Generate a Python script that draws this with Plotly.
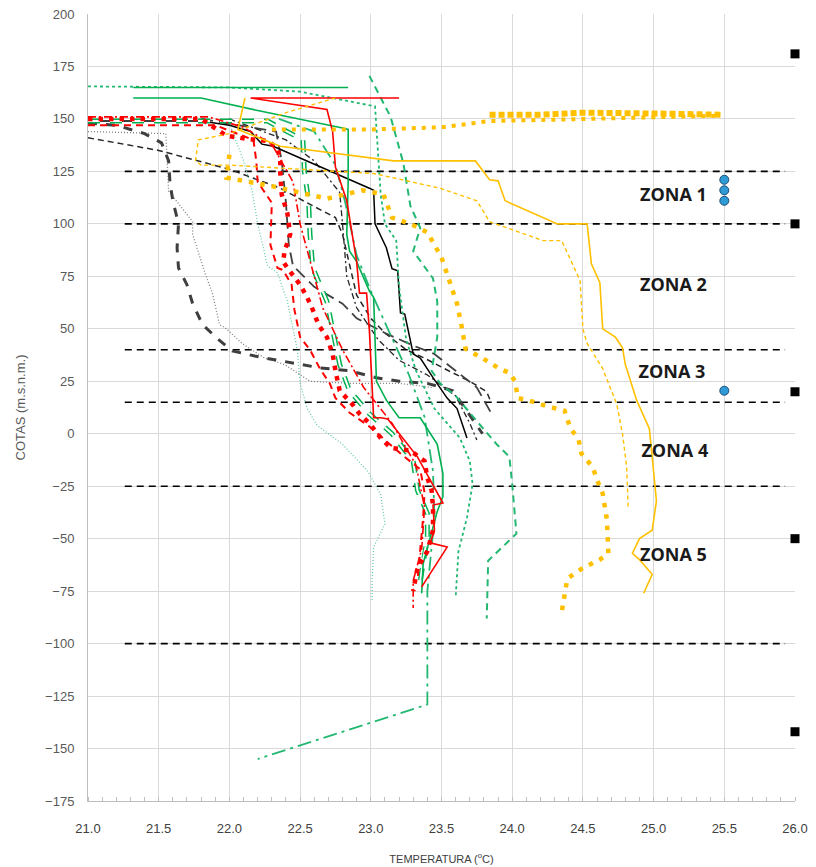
import plotly.graph_objects as go

# ---------------- DATA ----------------
# Yellow profiles
y_solid_T = [22.11, 22.06, 22.36, 23.16, 23.74, 23.84, 23.90, 23.95, 24.32, 24.53, 24.56, 24.62, 24.64, 24.73, 24.78, 24.80, 24.88, 24.97, 24.99, 25.01, 25.02, 24.99, 24.90, 24.85, 24.90, 24.99, 24.93]
y_solid_Z = [160, 145, 137, 130, 130, 121, 120.5, 111, 100, 100, 81, 72, 50, 46, 41, 33, 16, 2.4, -11, -24, -32, -46, -50, -57, -60, -67, -76]

y_dash_T = [22.75, 22.40, 22.00, 21.78, 21.76, 21.80, 22.00, 22.50, 23.02, 23.49, 23.75, 23.84, 24.22, 24.35, 24.48, 24.50, 24.53, 24.64, 24.74, 24.78, 24.81, 24.82]
y_dash_Z = [160, 153, 143, 140, 130, 128, 128, 126, 124, 117, 111, 101, 92, 92, 73, 50, 43, 31, 14, 0, -16, -35]

y_bigdot_T = [22.00, 21.98, 22.30, 22.69, 22.94, 23.09, 23.15, 23.28, 23.40, 23.50, 23.55, 23.61, 23.64, 23.67, 23.79, 23.91, 23.98, 24.02, 24.04, 24.11, 24.25, 24.37, 24.41, 24.47, 24.49, 24.57, 24.60, 24.64, 24.67, 24.68, 24.62, 24.50, 24.39, 24.37, 24.35]
y_bigdot_Z = [133, 122, 118, 112, 116, 114, 103, 100, 96, 84, 74, 62, 52, 40.5, 36, 31, 29, 25, 17, 16, 13, 11, 3, -3, -9.5, -16, -22, -28.5, -41, -57, -60, -64, -69, -77, -85]

y_topdot_T = [22.30, 22.70, 23.00, 23.50, 23.84, 24.20, 24.50, 25.00, 25.45]
y_topdot_Z = [145, 145, 145, 146, 149, 149.5, 150, 151, 151.5]

y_square_T = [23.84, 24.20, 24.50, 24.80, 25.10, 25.48]
y_square_Z = [152, 152, 153, 153, 152.5, 152]

# Red profiles
r_solid_T = [23.20, 22.15, 22.69, 22.73, 22.75, 22.83, 22.90, 22.92, 22.97, 22.99, 23.02, 23.07, 23.12, 23.33, 23.51, 23.44, 23.45, 23.42, 23.54, 23.36]
r_solid_Z = [160, 160, 154.5, 144, 127, 111, 82, 67, 67, 49, 7.6, 7.6, 7, -11, -33, -34, -46, -52, -54, -73]

r_dot_T = [21.00, 21.80, 21.98, 22.12, 22.27, 22.34, 22.36, 22.36, 22.37, 22.41, 22.43, 22.39, 22.38, 22.41, 22.50, 22.55, 22.59, 22.63, 22.69, 22.73, 22.75, 22.78, 22.87, 22.92, 22.99, 23.07, 23.14, 23.28, 23.38, 23.40, 23.43, 23.44, 23.44, 23.40, 23.33, 23.30]
r_dot_Z = [150, 150, 142, 140.5, 139.5, 136, 130, 124, 114, 105, 95, 87, 82, 79, 71, 65, 59, 52, 46, 38, 30, 20.5, 14, 9.5, 5, -2, -6.7, -8, -13, -21, -27, -35, -46, -56, -64, -75]

r_dash_T = [21.00, 21.90, 22.17, 22.19, 22.20, 22.30, 22.29, 22.34, 22.38, 22.44, 22.46, 22.50, 22.57, 22.64, 22.71, 22.75, 22.85, 22.98, 23.10, 23.22, 23.35, 23.38, 23.37, 23.35, 23.33]
r_dash_Z = [147, 147, 140, 130, 120, 110, 90, 79, 78, 71, 59, 46, 40, 31, 24, 17, 10, 4, -3, -10, -17, -28, -40, -55, -70]

r_dd_T = [21.00, 21.85, 22.10, 22.30, 22.45, 22.50, 22.58, 22.66, 22.80, 22.95, 23.15, 23.32, 23.38, 23.36, 23.30, 23.30]
r_dd_Z = [151, 151, 146, 138, 120, 100, 80, 60, 40, 22, 5, -15, -35, -55, -70, -83]

# Green profiles
g_top_T = [21.32, 22.84]
g_top_Z = [165, 165]

g_solid_T = [21.32, 21.80, 22.20, 22.50, 22.80, 22.84, 22.84, 22.83, 22.85, 22.90, 22.99, 23.02, 23.04, 23.11, 23.20, 23.35, 23.47, 23.51, 23.51, 23.47, 23.40, 23.37, 23.36]
g_solid_Z = [160, 160, 154, 150, 145.7, 145, 120, 95, 87, 82, 68, 65, 25, 16, 7.6, 7.6, -5, -19, -30, -37, -54, -62, -76]

g_dotted_T = [21.00, 22.00, 22.50, 23.03, 23.05, 23.07, 23.10, 23.18, 23.20, 23.25, 23.32, 23.45, 23.63, 23.70, 23.72, 23.68, 23.62, 23.60]
g_dotted_Z = [165.5, 165, 163, 156, 135, 114, 100, 92, 70, 45, 30, 12, -2, -13, -24, -40, -56, -78]

g_dash_T = [22.99, 23.14, 23.23, 23.28, 23.35, 23.30, 23.44, 23.47, 23.47, 23.43, 23.49, 23.60, 23.75, 23.89, 23.98, 24.00, 24.03, 23.96, 23.83, 23.82]
g_dash_Z = [170.5, 151, 129, 108.6, 98, 87, 74, 63, 46, 30, 24, 18, 6, -5, -11, -24, -47.6, -52, -60.5, -88]

g_capsule_T = [21.00, 22.27, 22.36, 22.52, 22.53, 22.56, 22.57, 22.59, 22.69, 22.73, 22.78, 22.85, 22.99, 23.15, 23.30, 23.33, 23.40, 23.40, 23.37, 23.35]
g_capsule_Z = [149, 149, 145.7, 140, 125, 111, 95, 79, 63, 49, 33, 20.5, 9.5, 0, -13, -27, -38, -49.5, -60, -70]

g_dashdot_T = [22.35, 22.60, 22.75, 22.82, 22.90, 23.00, 23.12, 23.27, 23.38, 23.44, 23.45, 23.42, 23.40, 23.40, 22.50, 22.20]
g_dashdot_Z = [150, 144, 128, 110, 85, 68, 50, 28, 8, -18, -40, -60, -75, -129, -148.6, -155]

g_thin_T = [22.00, 22.10, 22.16, 22.20, 22.27, 22.34, 22.41, 22.48, 22.50, 22.55, 22.62, 22.80, 22.98, 23.07, 23.10, 23.02, 23.01, 23.01]
g_thin_Z = [148, 130, 116, 100, 80, 76.7, 63, 40, 24, 12, 4, -5, -18, -29, -43, -54, -70, -80]

# Black / grey profiles
k_solid_T = [21.00, 21.80, 22.00, 22.15, 22.23, 22.31, 22.99, 23.02, 23.03, 23.11, 23.15, 23.19, 23.21, 23.24, 23.30, 23.35, 23.44, 23.54, 23.61, 23.68]
k_solid_Z = [149, 149, 147, 144, 138, 137, 117, 116, 100, 88.6, 78.6, 77.6, 57.6, 57, 38, 36, 26.7, 17, 12, -2]

k_long_T = [21.00, 21.20, 21.40, 21.52, 21.57, 21.58, 21.60, 21.64, 21.63, 21.64, 21.70, 21.74, 21.81, 21.92, 22.02, 22.18, 22.34, 22.64, 22.85, 23.04, 23.20, 23.40, 23.58, 23.68, 23.79]
k_long_Z = [148, 147, 143, 138.6, 130, 119.5, 111, 100, 88.6, 79, 71, 62, 52, 45, 39.5, 37, 35, 31.4, 30, 26.7, 25, 24, 20.5, 11, 0]

k_dotted_T = [21.00, 21.55, 21.57, 21.74, 21.74, 21.83, 21.88, 21.93, 21.97, 22.09, 22.25, 22.39, 22.57, 22.85, 23.20, 23.44]
k_dotted_Z = [144, 143, 115.7, 101, 95, 76, 67, 52, 50.5, 43, 36, 33, 25, 24, 24, 22]

k_dash_T = [21.00, 21.50, 22.00, 22.36, 22.55, 22.75, 22.80, 22.85, 22.90, 23.00, 23.10, 23.25, 23.38, 23.55, 23.70, 23.82, 23.85]
k_dash_Z = [141, 135, 126, 117, 110, 103, 95, 80, 66, 55, 48, 40, 36, 30, 25, 20, 15]

k_long2_T = [21.80, 22.33, 22.37, 22.40, 22.42, 22.45, 22.60, 22.80, 22.90, 23.10, 23.30, 23.45, 23.60, 23.75, 23.85]
k_long2_Z = [150, 144, 130, 110, 90, 80, 70, 62, 55, 48, 42, 38, 30, 22, 10]

k_dd_T = [22.00, 22.40, 22.60, 22.78, 22.80, 22.83, 22.90, 23.05, 23.20, 23.40, 23.60, 23.70, 23.75]
k_dd_Z = [150, 140, 130, 115, 100, 75, 60, 45, 35, 28, 18, 5, -3]

# Zone boundaries, markers, labels
zone_levels = [125, 100, 40, 15, -25, -100]
zone_T_start, zone_T_end = 21.26, 25.93
square_Z = [181, 100, 20, -50, -142]
square_T = [26.0] * len(square_Z)
circle_Z = [121, 116, 111, 20.5]
circle_T = [25.5] * len(circle_Z)
zone_names = ["ZONA 1", "ZONA 2", "ZONA 3", "ZONA 4", "ZONA 5"]
zone_label_T = [25.14, 25.14, 25.13, 25.15, 25.14]
zone_label_Z = [113, 70, 28.5, -9, -58.5]

x_ticks = [21.0, 21.5, 22.0, 22.5, 23.0, 23.5, 24.0, 24.5, 25.0, 25.5, 26.0]
y_ticks = list(range(-175, 201, 25))

# ---------------- FIGURE ----------------
YEL = "#FFC000"
RED = "#FF0000"
GRN = "#00B050"
TEAL = "#22B872"
LTEAL = "#5CC9A0"

fig = go.Figure()

def add_line(T, Z, color, width, dash="solid", opacity=1.0):
    fig.add_trace(go.Scatter(x=T, y=Z, mode="lines", line=dict(color=color, width=width, dash=dash),
                             opacity=opacity, showlegend=False, hoverinfo="skip"))

# zone dashed lines
zx, zy = [], []
for z in zone_levels:
    zx += [zone_T_start, zone_T_end, None]
    zy += [z, z, None]
add_line(zx, zy, "#000000", 1.6, "7px,5px")

# grey / black
add_line(k_dotted_T, k_dotted_Z, "#7F7F7F", 1.3, "1px,2px")
add_line(k_long_T, k_long_Z, "#3F3F3F", 3.0, "9px,9px")
add_line(k_dash_T, k_dash_Z, "#262626", 1.5, "6px,4px")
add_line(k_long2_T, k_long2_Z, "#404040", 1.8, "12px,6px")
add_line(k_dd_T, k_dd_Z, "#262626", 1.3, "6px,3px,2px,3px")
add_line(k_solid_T, k_solid_Z, "#000000", 1.5)

# green
add_line(g_thin_T, g_thin_Z, LTEAL, 1.2, "1px,2px")
add_line(g_dashdot_T, g_dashdot_Z, TEAL, 1.8, "14px,5px,3px,5px")
add_line(g_dotted_T, g_dotted_Z, TEAL, 1.8, "3px,3px")
add_line(g_dash_T, g_dash_Z, TEAL, 2.0, "7px,5px")
add_line(g_capsule_T, g_capsule_Z, GRN, 5.0, "12px,10px")
add_line(g_capsule_T, g_capsule_Z, "#FFFFFF", 2.0, "12px,10px")
add_line(g_top_T, g_top_Z, GRN, 1.6)
add_line(g_solid_T, g_solid_Z, GRN, 1.6)

# red
add_line(r_dash_T, r_dash_Z, RED, 2.0, "7px,5px")
add_line(r_dd_T, r_dd_Z, RED, 1.6, "8px,3px,2px,3px")
add_line(r_dot_T, r_dot_Z, RED, 4.5, "4.5px,6px")
add_line(r_solid_T, r_solid_Z, RED, 1.6)

# yellow
add_line(y_dash_T, y_dash_Z, YEL, 1.4, "4px,3px")
add_line(y_solid_T, y_solid_Z, YEL, 1.6)
add_line(y_bigdot_T, y_bigdot_Z, YEL, 4.5, "4.5px,7px")
add_line(y_topdot_T, y_topdot_Z, YEL, 4.0, "4px,6px")
add_line(y_square_T, y_square_Z, YEL, 6.0, "6px,3px")

# markers
fig.add_trace(go.Scatter(x=square_T, y=square_Z, mode="markers", cliponaxis=False,
                         marker=dict(symbol="square", size=9, color="#000000"),
                         showlegend=False, hoverinfo="skip"))
fig.add_trace(go.Scatter(x=circle_T, y=circle_Z, mode="markers", cliponaxis=False,
                         marker=dict(symbol="circle", size=9, color="#2E9BD6",
                                     line=dict(color="#1F4E79", width=1)),
                         showlegend=False, hoverinfo="skip"))
fig.add_trace(go.Scatter(x=zone_label_T, y=zone_label_Z, mode="text", text=zone_names,
                         textfont=dict(family="Open Sans, Liberation Sans, sans-serif", size=18, color="#1a1a1a", weight="bold"),
                         showlegend=False, hoverinfo="skip"))

# the page body has an 8px margin, so the figure is sized/offset to land the plot area on the reference
fig.update_layout(
    width=808, height=859,
    margin=dict(l=80, r=21, t=6, b=66),
    paper_bgcolor="#FFFFFF", plot_bgcolor="#FFFFFF",
    font=dict(family="Liberation Sans, Arial, sans-serif", color="#595959"),
)
fig.update_xaxes(
    range=[21, 26], tickvals=x_ticks, ticktext=[f"{v:.1f}" for v in x_ticks],
    showgrid=True, gridcolor="#D9D9D9", gridwidth=1,
    showline=True, linecolor="#BFBFBF", linewidth=1,
    zeroline=False, ticks="", ticklabelstandoff=15,
    tickfont=dict(size=13, color="#404040", family="Liberation Sans Narrow, Liberation Sans, sans-serif"),
    minor=dict(ticks="inside", ticklen=4, dtick=0.1, tickcolor="#BFBFBF", showgrid=False),
    title=dict(text="TEMPERATURA (<sup>o</sup>C)", standoff=20,
               font=dict(size=11, color="#404040", family="Liberation Sans Narrow, Liberation Sans, sans-serif")),
    automargin=False,
)
fig.update_yaxes(
    range=[-175, 200], tickvals=y_ticks,
    showgrid=True, gridcolor="#D9D9D9", gridwidth=1,
    showline=True, linecolor="#BFBFBF", linewidth=1,
    zeroline=False, ticks="", ticklabelstandoff=10, ticklabeloverflow="allow",
    tickfont=dict(size=13, color="#595959"),
    title=dict(text="COTAS (m.s.n.m.)", standoff=16,
               font=dict(size=13, color="#595959", family="Liberation Sans Narrow, Liberation Sans, sans-serif")),
    automargin=False,
)

fig.write_html("out.html")
